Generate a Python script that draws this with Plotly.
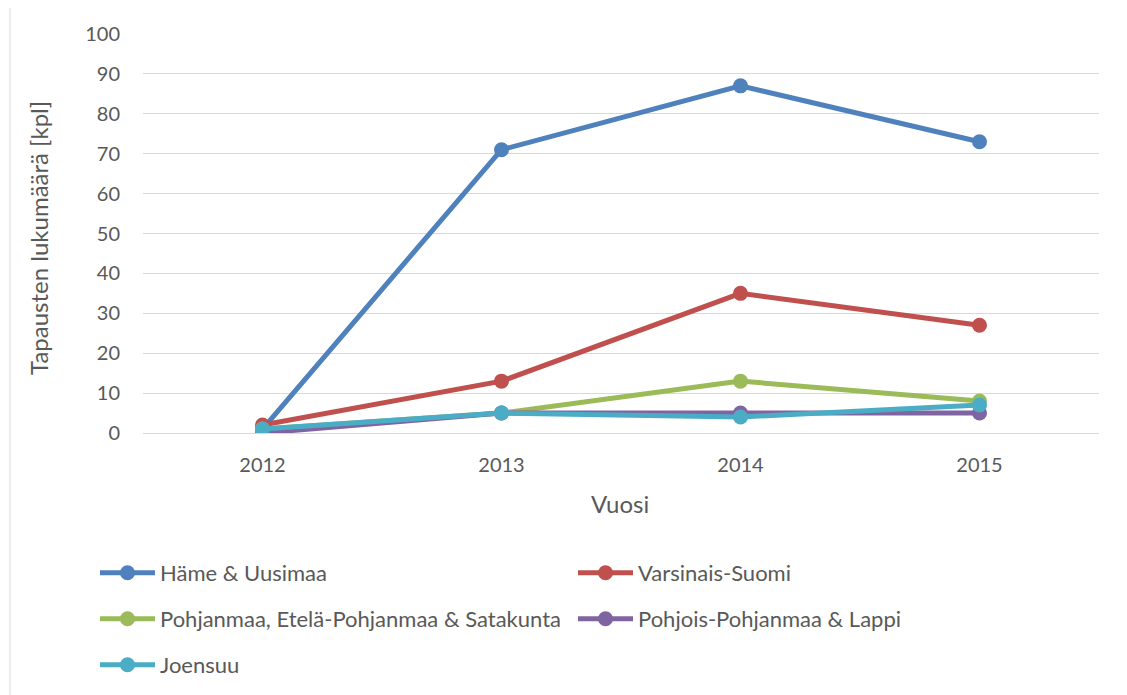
import plotly.graph_objects as go

years = ["2012", "2013", "2014", "2015"]
series_names = [
    "Häme & Uusimaa",
    "Varsinais-Suomi",
    "Pohjanmaa, Etelä-Pohjanmaa & Satakunta",
    "Pohjois-Pohjanmaa & Lappi",
    "Joensuu",
]
hame_uusimaa = [1, 71, 87, 73]
varsinais_suomi = [2, 13, 35, 27]
pohjanmaa = [1, 5, 13, 8]
pohjois_pohjanmaa = [0, 5, 5, 5]
joensuu = [1, 5, 4, 7]
y_ticks = [0, 10, 20, 30, 40, 50, 60, 70, 80, 90, 100]

values = [hame_uusimaa, varsinais_suomi, pohjanmaa, pohjois_pohjanmaa, joensuu]
colors = ["#4f81bd", "#c0504d", "#9bbb59", "#8064a2", "#4bacc6"]
legend_ids = ["legend", "legend2", "legend3", "legend4", "legend5"]

# the page body has an 8px margin, so work in screen coords and shift by 8
OFF = 8
W, H = 1127 - OFF, 695 - OFF
L, R, T, B = 143 - OFF, 1099 - OFF, 34 - OFF, 433 - OFF
pw, ph = R - L, B - T

def px(x):
    return (x - OFF - L) / pw

def py(y):
    return (B - (y - OFF)) / ph

FONT = "Lato"
TXT = "#595959"

fig = go.Figure()
for name, vals, col, lg in zip(series_names, values, colors, legend_ids):
    fig.add_trace(go.Scatter(
        x=years, y=vals, name=name, mode="lines+markers",
        line=dict(color=col, width=5),
        marker=dict(color=col, size=15),
        legend=lg,
    ))

legend_pos = [(95, 573), (573, 573), (95, 619), (573, 619), (95, 665)]
layout_legends = {}
for lg, (lx, ly) in zip(legend_ids, legend_pos):
    layout_legends[lg] = dict(
        x=px(lx), y=py(ly), xanchor="left", yanchor="middle",
        font=dict(family=FONT, size=22, color=TXT),
        bgcolor="rgba(0,0,0,0)", itemwidth=55,
    )

fig.update_layout(
    width=W, height=H,
    margin=dict(l=L, r=W - R, t=T, b=H - B, autoexpand=False),
    paper_bgcolor="white", plot_bgcolor="white",
    font=dict(family=FONT, size=20, color=TXT),
    showlegend=True,
    **layout_legends,
    xaxis=dict(
        type="category", range=[-0.5, 3.5], showgrid=False,
        showline=False, zeroline=False, ticks="",
        tickfont=dict(family=FONT, size=20, color=TXT),
        ticklabelstandoff=18,
    ),
    yaxis=dict(
        range=[0, 100], tickvals=y_ticks, showgrid=True,
        gridcolor="#d9d9d9", gridwidth=1, zeroline=True,
        zerolinecolor="#d9d9d9", zerolinewidth=1, showline=False, ticks="",
        tickfont=dict(family=FONT, size=20, color=TXT),
        ticklabelstandoff=22,
    ),
    shapes=[dict(
        type="rect", xref="paper", yref="paper",
        x0=px(10), x1=px(1126), y0=py(705), y1=py(6),
        line=dict(color="#d9d9d9", width=1), fillcolor="rgba(0,0,0,0)",
        layer="below",
    )],
    annotations=[
        dict(text="Vuosi", xref="paper", yref="paper", x=px(620), y=py(503),
             xanchor="center", yanchor="middle", showarrow=False,
             font=dict(family=FONT, size=24, color=TXT)),
        dict(text="Tapausten lukumäärä [kpl]", xref="paper", yref="paper",
             x=px(38), y=py(238), xanchor="center", yanchor="middle",
             textangle=-90, showarrow=False,
             font=dict(family=FONT, size=24, color=TXT)),
    ],
)

fig.write_html("out.html")
